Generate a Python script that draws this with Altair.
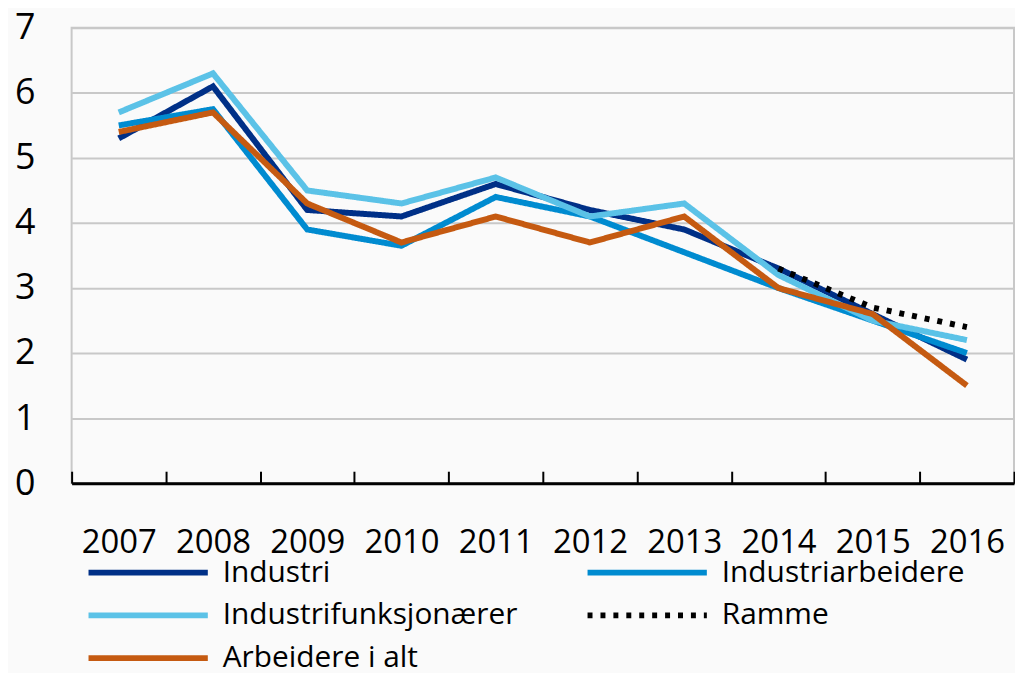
import altair as alt
import pandas as pd

years = [2007, 2008, 2009, 2010, 2011, 2012, 2013, 2014, 2015, 2016]
industri = [5.3, 6.1, 4.2, 4.1, 4.6, 4.2, 3.9, 3.3, 2.6, 1.9]
industriarbeidere = [5.5, 5.75, 3.9, 3.65, 4.4, 4.1, 3.55, 3.0, 2.5, 2.0]
industrifunksjonaerer = [5.7, 6.3, 4.5, 4.3, 4.7, 4.1, 4.3, 3.2, 2.5, 2.2]
arbeidere_i_alt = [5.4, 5.7, 4.3, 3.7, 4.1, 3.7, 4.1, 3.0, 2.6, 1.5]
ramme = [None, None, None, None, None, None, None, 3.3, 2.7, 2.4]

legend_order = ["Industri", "Industriarbeidere", "Industrifunksjonærer", "Ramme", "Arbeidere i alt"]
colors = ["#003087", "#008BD0", "#5BC2E7", "#000000", "#C55A11"]
dashes = [[1, 0], [1, 0], [1, 0], [5, 8], [1, 0]]
y_ticks = [0, 1, 2, 3, 4, 5, 6, 7]

# drawing order (bottom -> top)
draw_series = [
    ("Industri", industri),
    ("Industriarbeidere", industriarbeidere),
    ("Industrifunksjonærer", industrifunksjonaerer),
    ("Arbeidere i alt", arbeidere_i_alt),
    ("Ramme", ramme),
]
rows = []
for name, vals in draw_series:
    for yr, v in zip(years, vals):
        if v is not None:
            rows.append({"year": yr, "series": name, "value": v})
df = pd.DataFrame(rows)

tick_positions = [yr - 0.5 for yr in years] + [years[-1] + 0.5]
ticks_df = pd.DataFrame({"t": tick_positions})

W, H = 948, 458
FONT = "Open Sans"

xscale = alt.Scale(domain=[years[0] - 0.5, years[-1] + 0.5], nice=False, zero=False)

tick_layer = alt.Chart(ticks_df).mark_rule(opacity=0).encode(
    x=alt.X(
        "t:Q",
        scale=xscale,
        axis=alt.Axis(
            orient="top", offset=-H, values=tick_positions, labels=False,
            domain=False, grid=False, ticks=True, tickSize=12,
            tickColor="black", tickWidth=2, title=None,
        ),
    )
)

legend_kw = dict(
    title=None, orient="none", legendX=14, legendY=533, columns=2,
    direction="horizontal",
    symbolType="stroke", symbolSize=14400, symbolStrokeWidth=6,
    clipHeight=30, labelFontSize=30, labelFont=FONT, labelColor="black",
    labelOffset=12, columnPadding=67, rowPadding=13, labelLimit=500,
    padding=0,
)

lines = alt.Chart(df).mark_line(strokeWidth=6).encode(
    x=alt.X(
        "year:Q",
        scale=xscale,
        axis=alt.Axis(
            orient="bottom", values=years, format="d", ticks=False, grid=False,
            domain=True, domainColor="black", domainWidth=3,
            labelFontSize=33, labelFont=FONT, labelColor="black",
            labelPadding=44, labelFlush=False, labelOverlap=False, title=None,
        ),
    ),
    y=alt.Y(
        "value:Q",
        scale=alt.Scale(domain=[0, 7], nice=False),
        axis=alt.Axis(
            values=y_ticks, grid=True, gridColor="#c8c8c8", gridWidth=2,
            domain=False, ticks=False, labelFontSize=36, labelFont=FONT,
            labelColor="black", labelPadding=37, title=None,
        ),
    ),
    color=alt.Color(
        "series:N",
        scale=alt.Scale(domain=legend_order, range=colors),
        legend=alt.Legend(**legend_kw),
    ),
    strokeDash=alt.StrokeDash(
        "series:N",
        scale=alt.Scale(domain=legend_order, range=dashes),
        legend=alt.Legend(**legend_kw),
    ),
)

chart = (
    alt.layer(tick_layer, lines)
    .resolve_axis(x="independent")
    .properties(
        width=W, height=H,
        autosize=alt.AutoSizeParams(type="none"),
        padding={"left": 64, "top": 18, "right": 1, "bottom": 189},
        background="#fafafa",
    )
    .configure_view(stroke="#c8c8c8", strokeWidth=2)
)

chart.save("out.html", embed_options={"renderer": "svg", "actions": False})
